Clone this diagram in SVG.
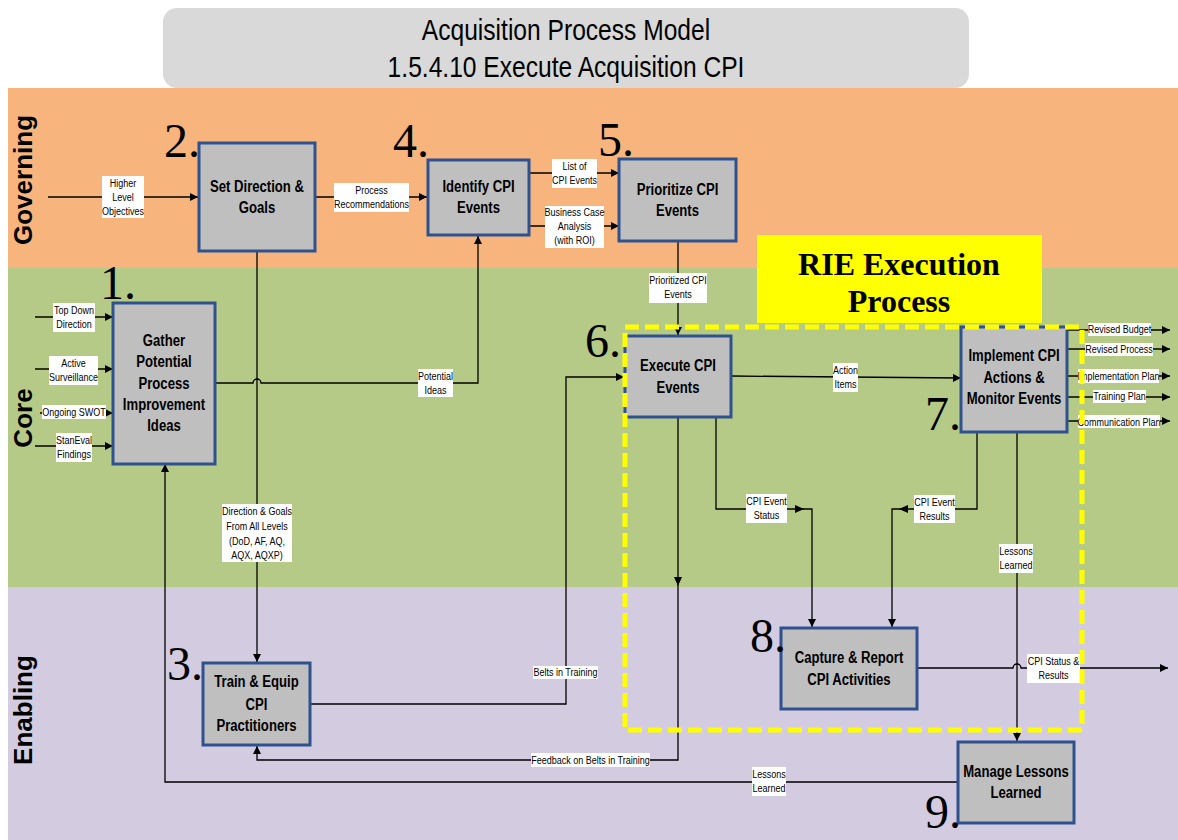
<svg xmlns="http://www.w3.org/2000/svg" width="1178" height="840" viewBox="0 0 1178 840">
<style>
.lane-label{font-family:"Liberation Sans",Arial,sans-serif;font-weight:bold;font-size:26px;text-anchor:middle;fill:#000}
.box{fill:#bfbfbf;stroke:#2f528f;stroke-width:3}
.bt{font-family:"Liberation Sans",Arial,sans-serif;font-weight:bold;font-size:16px;text-anchor:middle;fill:#000}
.num{font-family:"Liberation Serif","Times New Roman",serif;font-size:48px;fill:#000}
.lr{fill:#fff}
.lt{font-family:"Liberation Sans",Arial,sans-serif;font-size:11px;text-anchor:middle;fill:#000}
.c{fill:none;stroke:#000;stroke-width:1.3}
.ah{fill:#000}
.title{font-family:"Liberation Sans",Arial,sans-serif;font-size:30px;text-anchor:middle;fill:#000}
.rie{font-family:"Liberation Serif","Times New Roman",serif;font-weight:bold;font-size:32px;text-anchor:middle;fill:#000}
</style>
<defs>
<marker id="a" viewBox="0 0 10 10" refX="10" refY="5" markerWidth="9" markerHeight="8" orient="auto" markerUnits="userSpaceOnUse"><path d="M0,0 L10,5 L0,10z" fill="#000"/></marker>
</defs>
<rect width="1178" height="840" fill="#fff"/>
<g id="lanes">
<rect x="8" y="88" width="1170" height="180" fill="#f7b47d"/>
<rect x="8" y="268" width="1170" height="319" fill="#b6ca88"/>
<rect x="8" y="587" width="1170" height="253" fill="#d3cbe0"/>
<text class="lane-label" transform="translate(32,180) rotate(-90)">Governing</text>
<text class="lane-label" transform="translate(32,418) rotate(-90)">Core</text>
<text class="lane-label" transform="translate(32,710) rotate(-90)">Enabling</text>
</g>
<g id="title">
<rect x="163" y="8" width="806" height="80" rx="14" fill="#d9d9d9"/>
<text class="title" transform="translate(566,40) scale(.82,1)">Acquisition Process Model</text>
<text class="title" transform="translate(566,77) scale(.82,1)">1.5.4.10 Execute Acquisition CPI</text>
</g>
<g id="rie-label">
<rect x="757" y="235" width="285" height="88" fill="#ffff00"/>
<text class="rie" x="899" y="275">RIE Execution</text>
<text class="rie" x="899" y="312">Process</text>
</g>
<g id="connectors">
<path class="c" d="M48,197 H198" marker-end="url(#a)"/>
<path class="c" d="M315,197 H427" marker-end="url(#a)"/>
<path class="c" d="M529,173 H619" marker-end="url(#a)"/>
<path class="c" d="M529,226 H619" marker-end="url(#a)"/>
<path class="c" d="M678,241 V335" marker-end="url(#a)"/>
<path class="c" d="M215,383 H253 A4,4 0 0 1 261,383 H478 V236" marker-end="url(#a)"/>
<path class="c" d="M257,251 V662" marker-end="url(#a)"/>
<path class="c" d="M35,317 H113" marker-end="url(#a)"/>
<path class="c" d="M35,369 H113" marker-end="url(#a)"/>
<path class="c" d="M40,413 H113" marker-end="url(#a)"/>
<path class="c" d="M35,446 H113" marker-end="url(#a)"/>
<path class="c" d="M958,782 H165 V464" marker-end="url(#a)"/>
<path class="c" d="M310,704 H566 V377 H624" marker-end="url(#a)"/>
<path class="c" d="M678,417 V760 H257 V746" marker-end="url(#a)"/>
<polygon class="ah" points="674,577 678,586 682,577"/>
<path class="c" d="M716,417 V509 H812 V627" marker-end="url(#a)"/>
<polygon class="ah" points="795,505 804,509 795,513"/>
<path class="c" d="M977,432 V509 H892 V627" marker-end="url(#a)"/>
<polygon class="ah" points="908,505 899,509 908,513"/>
<path class="c" d="M1017,432 V741" marker-end="url(#a)"/>
<path class="c" d="M917,668 H1013 A4,4 0 0 1 1021,668 H1168" marker-end="url(#a)"/>
<path class="c" d="M731,376 L961,378" marker-end="url(#a)"/>
<path class="c" d="M1067,330 H1170" marker-end="url(#a)"/>
<path class="c" d="M1067,349 H1170" marker-end="url(#a)"/>
<path class="c" d="M1067,376 H1170" marker-end="url(#a)"/>
<path class="c" d="M1067,397 H1170" marker-end="url(#a)"/>
<path class="c" d="M1067,421 H1170" marker-end="url(#a)"/>
</g>
<g id="labels">
<rect class="lr" x="102" y="176" width="42" height="42"/>
<text class="lt" transform="translate(123,187) scale(.82,1)">Higher</text><text class="lt" transform="translate(123,201) scale(.82,1)">Level</text><text class="lt" transform="translate(123,215) scale(.82,1)">Objectives</text>
<rect class="lr" x="334" y="183" width="75" height="29"/>
<text class="lt" transform="translate(371.5,194) scale(.82,1)">Process</text><text class="lt" transform="translate(371.5,208) scale(.82,1)">Recommendations</text>
<rect class="lr" x="552" y="159" width="45" height="29"/>
<text class="lt" transform="translate(574.5,170) scale(.82,1)">List of</text><text class="lt" transform="translate(574.5,184) scale(.82,1)">CPI Events</text>
<rect class="lr" x="545" y="206" width="59" height="42"/>
<text class="lt" transform="translate(574.5,216) scale(.82,1)">Business Case</text><text class="lt" transform="translate(574.5,230) scale(.82,1)">Analysis</text><text class="lt" transform="translate(574.5,244) scale(.82,1)">(with ROI)</text>
<rect class="lr" x="649" y="273" width="58" height="30"/>
<text class="lt" transform="translate(678,284) scale(.82,1)">Prioritized CPI</text><text class="lt" transform="translate(678,298) scale(.82,1)">Events</text>
<rect class="lr" x="418" y="369" width="35" height="28"/>
<text class="lt" transform="translate(435.5,380) scale(.82,1)">Potential</text><text class="lt" transform="translate(435.5,394) scale(.82,1)">Ideas</text>
<rect class="lr" x="222" y="504" width="70" height="58"/>
<text class="lt" transform="translate(257,515) scale(.82,1)">Direction &amp; Goals</text><text class="lt" transform="translate(257,530) scale(.82,1)">From All Levels</text><text class="lt" transform="translate(257,545) scale(.82,1)">(DoD, AF, AQ,</text><text class="lt" transform="translate(257,559) scale(.82,1)">AQX, AQXP)</text>
<rect class="lr" x="53" y="303" width="42" height="29"/>
<text class="lt" transform="translate(74,314) scale(.82,1)">Top Down</text><text class="lt" transform="translate(74,328) scale(.82,1)">Direction</text>
<rect class="lr" x="49" y="356" width="49" height="29"/>
<text class="lt" transform="translate(73.5,367) scale(.82,1)">Active</text><text class="lt" transform="translate(73.5,381) scale(.82,1)">Surveillance</text>
<rect class="lr" x="42" y="405" width="64" height="14"/>
<text class="lt" transform="translate(74,416) scale(.82,1)">Ongoing SWOT</text>
<rect class="lr" x="56" y="433" width="36" height="29"/>
<text class="lt" transform="translate(74,444) scale(.82,1)">StanEval</text><text class="lt" transform="translate(74,458) scale(.82,1)">Findings</text>
<rect class="lr" x="833" y="363" width="25" height="29"/>
<text class="lt" transform="translate(845.5,374) scale(.82,1)">Action</text><text class="lt" transform="translate(845.5,388) scale(.82,1)">Items</text>
<rect class="lr" x="1088" y="323" width="63" height="13"/>
<text class="lt" transform="translate(1119.5,333) scale(.82,1)">Revised Budget</text>
<rect class="lr" x="1085" y="343" width="68" height="13"/>
<text class="lt" transform="translate(1119,353) scale(.82,1)">Revised Process</text>
<rect class="lr" x="1078" y="369" width="81" height="14"/>
<text class="lt" transform="translate(1118.5,380) scale(.82,1)">Implementation Plan</text>
<rect class="lr" x="1093" y="390" width="53" height="13"/>
<text class="lt" transform="translate(1119.5,400) scale(.82,1)">Training Plan</text>
<rect class="lr" x="1078" y="415" width="82" height="13"/>
<text class="lt" transform="translate(1119,426) scale(.82,1)">Communication Plan</text>
<rect class="lr" x="746" y="494" width="41" height="29"/>
<text class="lt" transform="translate(766.5,505) scale(.82,1)">CPI Event</text><text class="lt" transform="translate(766.5,519) scale(.82,1)">Status</text>
<rect class="lr" x="914" y="495" width="41" height="28"/>
<text class="lt" transform="translate(934.5,506) scale(.82,1)">CPI Event</text><text class="lt" transform="translate(934.5,520) scale(.82,1)">Results</text>
<rect class="lr" x="999" y="544" width="34" height="29"/>
<text class="lt" transform="translate(1016,555) scale(.82,1)">Lessons</text><text class="lt" transform="translate(1016,569) scale(.82,1)">Learned</text>
<rect class="lr" x="533" y="666" width="65" height="13"/>
<text class="lt" transform="translate(565.5,676) scale(.82,1)">Belts in Training</text>
<rect class="lr" x="531" y="753" width="119" height="14"/>
<text class="lt" transform="translate(590.5,764) scale(.82,1)">Feedback on Belts in Training</text>
<rect class="lr" x="1027" y="654" width="53" height="29"/>
<text class="lt" transform="translate(1053.5,665) scale(.82,1)">CPI Status &amp;</text><text class="lt" transform="translate(1053.5,679) scale(.82,1)">Results</text>
<rect class="lr" x="752" y="767" width="34" height="29"/>
<text class="lt" transform="translate(769,778) scale(.82,1)">Lessons</text><text class="lt" transform="translate(769,792) scale(.82,1)">Learned</text>
</g>
<g id="n2"><rect class="box" x="199" y="143" width="116" height="108"/><text class="bt" transform="translate(257,192) scale(.82,1)">Set Direction &amp;</text><text class="bt" transform="translate(257,213) scale(.82,1)">Goals</text><text class="num" x="164" y="157">2.</text></g>
<g id="n4"><rect class="box" x="428" y="160" width="101" height="75"/><text class="bt" transform="translate(478.5,192) scale(.82,1)">Identify CPI</text><text class="bt" transform="translate(478.5,213) scale(.82,1)">Events</text><text class="num" x="393" y="157">4.</text></g>
<g id="n5"><rect class="box" x="619" y="159" width="117" height="82"/><text class="bt" transform="translate(677.5,195) scale(.82,1)">Prioritize CPI</text><text class="bt" transform="translate(677.5,216) scale(.82,1)">Events</text><text class="num" x="598" y="156">5.</text></g>
<g id="n1"><rect class="box" x="113" y="303" width="102" height="161"/><text class="bt" transform="translate(164,346) scale(.82,1)">Gather</text><text class="bt" transform="translate(164,367) scale(.82,1)">Potential</text><text class="bt" transform="translate(164,389) scale(.82,1)">Process</text><text class="bt" transform="translate(164,410) scale(.82,1)">Improvement</text><text class="bt" transform="translate(164,431) scale(.82,1)">Ideas</text><text class="num" x="100" y="299">1.</text></g>
<g id="n6"><rect class="box" x="625" y="336" width="106" height="81"/><text class="bt" transform="translate(678,371) scale(.82,1)">Execute CPI</text><text class="bt" transform="translate(678,393) scale(.82,1)">Events</text><text class="num" x="585" y="357">6.</text></g>
<g id="n7"><rect class="box" x="961" y="327" width="106" height="105"/><text class="bt" transform="translate(1014,361) scale(.82,1)">Implement CPI</text><text class="bt" transform="translate(1014,383) scale(.82,1)">Actions &amp;</text><text class="bt" transform="translate(1014,404) scale(.82,1)">Monitor Events</text><text class="num" x="925" y="430">7.</text></g>
<g id="n8"><rect class="box" x="781" y="628" width="136" height="81"/><text class="bt" transform="translate(849,663) scale(.82,1)">Capture &amp; Report</text><text class="bt" transform="translate(849,685) scale(.82,1)">CPI Activities</text><text class="num" x="750" y="652">8.</text></g>
<g id="n9"><rect class="box" x="958" y="742" width="116" height="81"/><text class="bt" transform="translate(1016,777) scale(.82,1)">Manage Lessons</text><text class="bt" transform="translate(1016,798) scale(.82,1)">Learned</text><text class="num" x="925" y="828">9.</text></g>
<g id="n3"><rect class="box" x="203" y="663" width="107" height="82"/><text class="bt" transform="translate(256.5,687) scale(.82,1)">Train &amp; Equip</text><text class="bt" transform="translate(256.5,710) scale(.82,1)">CPI</text><text class="bt" transform="translate(256.5,731) scale(.82,1)">Practitioners</text><text class="num" x="167" y="680">3.</text></g>
<g id="rie-boundary">
<rect x="625" y="327" width="457" height="403" fill="none" stroke="#ffff00" stroke-width="5" stroke-dasharray="14 6"/>
</g>
</svg>
